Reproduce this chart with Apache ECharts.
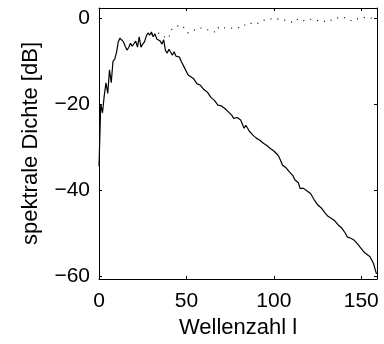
<!DOCTYPE html>
<html>
<head>
<meta charset="utf-8">
<script src="https://cdn.jsdelivr.net/npm/echarts@6/dist/echarts.min.js"></script>
<style>html,body{margin:0;padding:0;background:#fff}#c{width:384px;height:344px}</style>
</head>
<body>
<div id="c"></div>
<script>
const xTicks = [0, 50, 100, 150];
const yTicks = [-60, -40, -20, 0];
const xLabel = 'Wellenzahl l';
const yLabel = 'spektrale Dichte [dB]';

const solidX = [0,1,2,3,4,5,6,7,8,9,10,11,12,13,14,15,16,17,18,19,20,21,22,23,24,25,26,27,28,29,30,31,32,33,34,35,36,37,38,39,40,41,42,43,44,45,46,47,48,49,50,51,52,54,56,58,60,62,64,66,67,68,70,72,74,76,77,79,81,83,84,86,88,90,92,94,96,98,100,102,103,105,107,109,111,112,113,114,115,117,119,121,123,125,127,129,131,133,135,137,139,141,142,144,146,148,150,152,153,155,156,157,158,158.7];
const solidY = [-34.5,-20,-22,-18,-15,-17.5,-12,-15,-10,-9.5,-8,-5.5,-4.6,-5,-5.5,-6.5,-7.4,-6.8,-5.8,-6.5,-6.7,-5.3,-6.7,-4.3,-6.7,-6,-5.5,-4.2,-3.4,-3.9,-3.2,-4.3,-3.6,-4.8,-5,-5.3,-6,-5,-7.5,-8.1,-7.2,-7.6,-8.6,-7.8,-8.8,-9.2,-9,-10,-9.7,-11.6,-12,-13.2,-13,-14,-15.2,-15.6,-16.6,-17.2,-18.4,-19.1,-19.4,-20.2,-20.4,-21,-21.8,-22.6,-23.3,-23.1,-23.7,-25.6,-24.9,-26.3,-27.2,-27.9,-28.4,-29.1,-29.6,-30.3,-30.9,-31.7,-32.3,-34.2,-34.8,-35.8,-36.7,-37.6,-37.3,-38.3,-39.6,-39.6,-40.2,-40.8,-42.2,-43.4,-44.1,-45.2,-46.1,-46.6,-47.2,-48.2,-48.9,-50.1,-50.9,-51.2,-51.7,-52.6,-53.6,-54.6,-54.8,-55.5,-55.8,-57.1,-58.5,-59.5];

const dotX = [30,33.7,36,38,39.9,41.3,44.5,47.6,50.8,53.7,57.5,60.4,64.2,67,68.5,72.8,77.5,82.3,84.6,90,95.7,101.4,105.7,111.3,113.7,116,120.4,124.8,130.9,135.3,140.8,144.6,149.6,154.8,158.7];
const dotY = [-3.8,-3.4,-3.8,-4.6,-4.6,-2.7,-1.8,-1.7,-3.4,-2.9,-2.2,-2.5,-2.9,-3.3,-2.0,-2.3,-2.3,-2.0,-1.1,-1.3,-0.2,-0.1,-0.4,-1.0,-0.2,-0.6,-0.2,-0.5,-0.8,0.07,0.15,-0.6,0.15,0.15,-0.3];

const xMin = 0, xMax = 159, yMin = -60.7, yMax = 2.4;

const font = 'Liberation Sans, Arial, Helvetica, sans-serif';
const minus = v => String(v).replace('-', '\u2212');

function mkX(pos, labels) {
  return {
    type: 'value', position: pos, min: xMin, max: xMax,
    axisLine: {show: true, onZero: false, lineStyle: {color: '#000', width: 1}},
    axisTick: {show: true, inside: true, length: 3, customValues: xTicks, lineStyle: {color: '#000'}},
    axisLabel: {show: labels, customValues: xTicks, margin: 12, color: '#000', fontSize: 21, fontFamily: font, formatter: minus},
    splitLine: {show: false},
    name: labels ? xLabel : '', nameLocation: 'middle', nameGap: 36,
    nameTextStyle: {color: '#000', fontSize: 22, fontFamily: font}
  };
}
function mkY(pos, labels) {
  return {
    type: 'value', position: pos, min: yMin, max: yMax,
    axisLine: {show: true, onZero: false, lineStyle: {color: '#000', width: 1}},
    axisTick: {show: true, inside: true, length: 3, customValues: yTicks, lineStyle: {color: '#000'}},
    axisLabel: {show: labels, customValues: yTicks, margin: 9, color: '#000', fontSize: 21, fontFamily: font, formatter: minus},
    splitLine: {show: false},
    name: labels ? yLabel : '', nameLocation: 'middle', nameGap: 57, nameRotate: 90,
    nameTextStyle: {color: '#000', fontSize: 22, fontFamily: font}
  };
}

const chart = echarts.init(document.getElementById('c'), null, {renderer: 'canvas'});
chart.setOption({
  animation: false,
  backgroundColor: '#fff',
  grid: {left: 99, right: 7, top: 8, bottom: 65, containLabel: false},
  xAxis: [mkX('bottom', true), mkX('top', false)],
  yAxis: [mkY('left', true), mkY('right', false)],
  series: [
    {type: 'line', symbol: 'none', data: solidX.map((x, i) => [x, solidY[i]]),
     lineStyle: {color: '#000', width: 1.2}, clip: true},
    {type: 'line', symbol: 'none', data: dotX.map((x, i) => [x, dotY[i]]),
     lineStyle: {color: '#000', width: 1.2, type: [1, 6]}, clip: true}
  ]
});
</script>
</body>
</html>
